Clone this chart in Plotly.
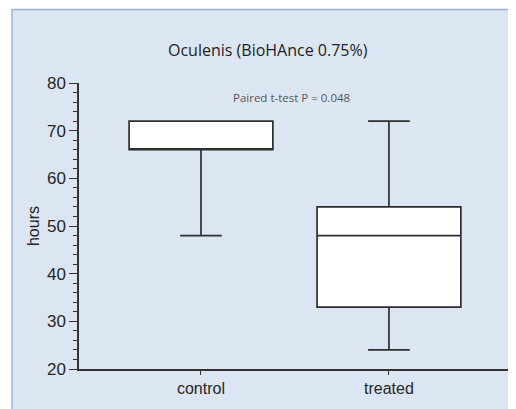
import plotly.graph_objects as go

categories = ["control", "treated"]
q1 = [66, 33]
median = [66, 48]
q3 = [72, 54]
lower = [48, 24]
upper = [72, 72]

title_text = "Oculenis (BioHAnce 0.75%)"
note_text = "Paired t-test P = 0.048"
y_title = "hours"

OFF = 8  # page body margin
W, H = 516 - OFF, 409 - OFF
L, R, T, B = 79 - OFF, 6, 83 - OFF, 40
pw, ph = W - L - R, H - T - B

def px_x(px):  # reference-page pixel -> paper x
    return (px - OFF - L) / pw

def px_y(py):
    return (H - B - (py - OFF)) / ph

fig = go.Figure()
fig.add_trace(go.Box(
    x=categories, q1=q1, median=median, q3=q3,
    lowerfence=lower, upperfence=upper,
    fillcolor="white", line=dict(color="#2e2e2e", width=1.7),
    width=0.765, whiskerwidth=0.29, boxpoints=False, showlegend=False,
    hoverinfo="skip",
))

fig.add_shape(type="rect", xref="paper", yref="paper", layer="below",
              x0=px_x(12), x1=px_x(540),
              y0=px_y(440), y1=px_y(9.5),
              fillcolor="#dce6f3", line=dict(color="#9fb4d4", width=1.5))

fig.add_annotation(text=title_text, xref="paper", yref="paper",
                   x=px_x(268), y=px_y(50), xanchor="center", yanchor="middle",
                   showarrow=False, font=dict(family="Open Sans", size=16, color="#222222"))
fig.add_annotation(text=note_text, xref="paper", yref="paper",
                   x=px_x(291), y=px_y(97), xanchor="center", yanchor="middle",
                   showarrow=False, font=dict(family="Open Sans", size=11.5, color="#555555"))

axis_col = "#333333"
fig.update_layout(
    width=W, height=H,
    margin=dict(l=L, r=R, t=T, b=B),
    paper_bgcolor="white", plot_bgcolor="rgba(0,0,0,0)",
    font=dict(family="Liberation Sans", color="#262626", size=14),
    xaxis=dict(type="category", range=[-0.649, 1.644], showline=True, linecolor=axis_col,
               linewidth=1.5, ticks="outside", ticklen=4, tickcolor=axis_col,
               showgrid=False, zeroline=False, tickfont=dict(size=16, color="#262626")),
    yaxis=dict(range=[20, 80], dtick=10, showline=True, linecolor=axis_col, linewidth=1.5,
               ticks="outside", ticklen=8, tickcolor=axis_col, tickwidth=1.3,
               showgrid=False, zeroline=False, tickfont=dict(size=17, color="#262626"),
               minor=dict(dtick=2, ticks="outside", ticklen=4, tickcolor=axis_col, showgrid=False),
               title=dict(text=y_title, font=dict(size=16, color="#262626"), standoff=3)),
)

fig.write_html("out.html")
